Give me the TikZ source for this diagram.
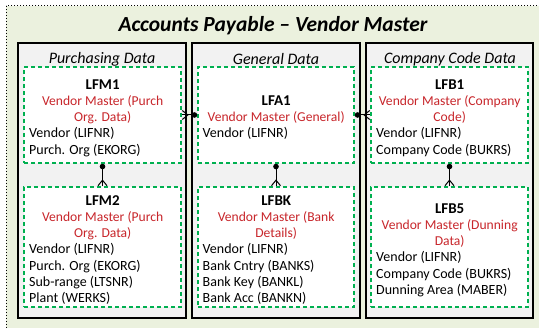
\documentclass[tikz,border=0pt]{standalone}
\usepackage{fontspec}
\setmainfont{Carlito}
\usetikzlibrary{arrows.meta}
\definecolor{bggreen}{HTML}{EBF1DE}
\definecolor{panelgray}{HTML}{F2F2F2}
\definecolor{tblgreen}{HTML}{00B050}
\definecolor{descred}{HTML}{C8262B}

\newcommand{\tblname}[1]{\makebox[147pt]{\fontsize{15}{16.2}\selectfont\bfseries #1}}
\newcommand{\tbldesc}[1]{\makebox[147pt]{\fontsize{13.6}{16.2}\selectfont\color{descred}#1}}

\tikzset{
  panel/.style={draw=black, line width=1.2pt, fill=panelgray},
  tablebox/.style={draw=tblgreen, line width=1.6pt, dash pattern=on 4pt off 3pt, fill=white},
  paneltitle/.style={font=\itshape\fontsize{16}{18}\selectfont},
  tbl/.style={align=left, inner sep=0pt, font=\fontsize{14}{16.2}\selectfont},
  rel/.style={line width=1pt, {Circle[length=5.5pt]}-{Straight Barb[reversed,length=5.5pt,width=9pt]},
    postaction={draw, -}},
}

\begin{document}
\begin{tikzpicture}[x=1pt, y=-1pt]
			\useasboundingbox (0,0) rectangle (539,328);

			% Background frame
			\draw[fill=bggreen, line width=1pt, dotted] (6,6) rectangle (548,340);
			\node[font=\bfseries\itshape\fontsize{21.5}{24}\selectfont] (title) at (273,26) {Accounts Payable -- Vendor Master};

			% Panels
			\draw[panel] (18,43) rectangle (186,318);
			\draw[panel] (192,43) rectangle (360,318);
			\draw[panel] (366,43) rectangle (533,318);
			\node[paneltitle] (purch) at (102,59) {Purchasing Data};
			\node[paneltitle] (general) at (276,59) {General Data};
			\node[paneltitle] (ccode) at (450,59) {Company Code Data};

			% Tables
			\node[tablebox, minimum width=157pt, minimum height=96pt] (lfm1) at (102.5,115) {};
			\node[tablebox, minimum width=157pt, minimum height=120pt] (lfm2) at (102.5,247) {};
			\node[tablebox, minimum width=156pt, minimum height=96pt] (lfa1) at (276,115) {};
			\node[tablebox, minimum width=156pt, minimum height=120pt] (lfbk) at (276,247) {};
			\node[tablebox, minimum width=157pt, minimum height=96pt] (lfb1) at (449.5,115) {};
			\node[tablebox, minimum width=157pt, minimum height=120pt] (lfb5) at (449.5,247) {};

			% Table texts
			\node[tbl, anchor=north west] (lfm1t) at (29,79.3) {%
				\tblname{LFM1}\\
				\tbldesc{Vendor Master (Purch}\\
				\tbldesc{Org. Data)}\\
				Vendor (LIFNR)\\
				Purch. Org (EKORG)};
			\node[tbl, anchor=north west] (lfm2t) at (29,195.3) {%
				\tblname{LFM2}\\
				\tbldesc{Vendor Master (Purch}\\
				\tbldesc{Org. Data)}\\
				Vendor (LIFNR)\\
				Purch. Org (EKORG)\\
				Sub-range (LTSNR)\\
				Plant (WERKS)};
			\node[tbl, anchor=north west] (lfa1t) at (202.5,95.3) {%
				\tblname{LFA1}\\
				\tbldesc{Vendor Master (General)}\\
				Vendor (LIFNR)};
			\node[tbl, anchor=north west] (lfbkt) at (202.5,195.3) {%
				\tblname{LFBK}\\
				\tbldesc{Vendor Master (Bank}\\
				\tbldesc{Details)}\\
				Vendor (LIFNR)\\
				Bank Cntry (BANKS)\\
				Bank Key (BANKL)\\
				Bank Acc (BANKN)};
			\node[tbl, anchor=north west] (lfb1t) at (376,79.3) {%
				\tblname{LFB1}\\
				\tbldesc{Vendor Master (Company}\\
				\tbldesc{Code)}\\
				Vendor (LIFNR)\\
				Company Code (BUKRS)};
			\node[tbl, anchor=north west] (lfb5t) at (376,203.3) {%
				\tblname{LFB5}\\
				\tbldesc{Vendor Master (Dunning}\\
				\tbldesc{Data)}\\
				Vendor (LIFNR)\\
				Company Code (BUKRS)\\
				Dunning Area (MABER)};

			% Relationships (one -> many)
			\draw[rel] (lfa1.west) -- (lfm1.east);
			\draw[rel] (lfa1.east) -- (lfb1.west);
			\draw[rel] (lfm1.south) -- (lfm2.north);
			\draw[rel] (lfa1.south) -- (lfbk.north);
			\draw[rel] (lfb1.south) -- (lfb5.north);
		\end{tikzpicture}
\end{document}
